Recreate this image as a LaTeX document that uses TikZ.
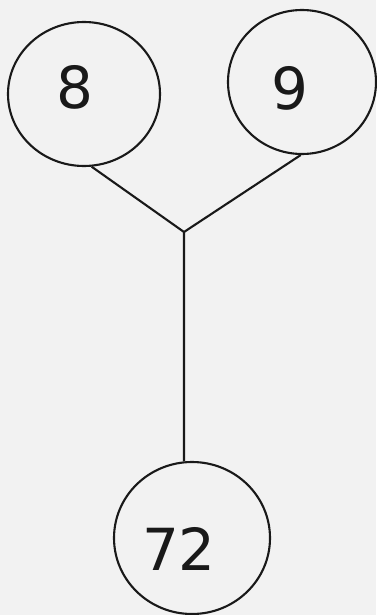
\documentclass[tikz,border=0pt]{standalone}
\usepackage{fontspec}
\setmainfont{DejaVu Sans}
\usetikzlibrary{shapes.geometric}
\definecolor{bgc}{RGB}{242,242,242}
\tikzset{
  circ/.style={draw=black!90, line width=2.1pt, ellipse, inner sep=0pt},
  num/.style={font=\fontsize{58}{60}\selectfont, text=black!90, inner sep=0pt},
  conn/.style={draw=black!90, line width=2.1pt}
}
\begin{document}
\begin{tikzpicture}[x=1pt,y=-1pt]
\fill[bgc] (0,0) rectangle (376,615);
\useasboundingbox (0,0) rectangle (376,615);
\node[circ, minimum width=152pt, minimum height=144pt] (e8) at (84,94) {};
\node[circ, minimum width=148pt, minimum height=144pt] (e9) at (302,82) {};
\node[circ, minimum width=156pt, minimum height=152pt] (e72) at (192,538) {};
\node[num] (t8) at (75,87) {8};
\node[num] (t9) at (290,88) {9};
\node[num] (t72) at (179,549) {72};
\coordinate (j) at (184,232);
\draw[conn] (e8.-84) -- (j);
\draw[conn] (e9.-91) -- (j);
\draw[conn] (j) -- (e72.96);
\end{tikzpicture}
\end{document}
